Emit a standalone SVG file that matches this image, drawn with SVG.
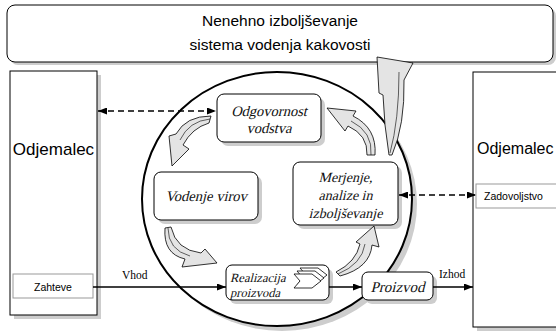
<svg xmlns="http://www.w3.org/2000/svg" width="556" height="336" viewBox="0 0 556 336">
<defs>
<style>
.box{fill:#fff;stroke:#000;stroke-width:1}
.sh{fill:#cdcdcd}
.it{font-family:"Liberation Serif","Times New Roman",serif;fill:#111}
.sans{font-family:"Liberation Sans",Arial,sans-serif;fill:#000}
.lbl{font-family:"Liberation Serif","Times New Roman",serif;font-size:11.5px;fill:#000}
.conn{stroke:#000;stroke-width:1.5;fill:none}
.dash{stroke-dasharray:6 4}
.ba{fill:#e4e4e4;stroke:#000;stroke-width:0.8;stroke-linejoin:round}
.bi{fill:none;stroke:#000;stroke-width:0.6}
.chev{fill:#fff;stroke:#000;stroke-width:0.8}
</style>
<marker id="ah" viewBox="0 0 9 7" refX="9" refY="3.5" markerWidth="9" markerHeight="7" markerUnits="userSpaceOnUse" orient="auto-start-reverse">
<path d="M0,0 L9,3.5 L0,7 Z" fill="#000"/>
</marker>
</defs>

<g id="title">
<rect class="sh" x="10" y="8" width="546" height="57" rx="8"/>
<rect class="box" x="7" y="5" width="546" height="57" rx="8"/>
<text class="sans" x="280" y="26" font-size="15.5" text-anchor="middle">Nenehno izboljševanje</text>
<text class="sans" x="280" y="50" font-size="15.5" text-anchor="middle">sistema vodenja kakovosti</text>
</g>

<g id="odjemalec-left">
<rect class="sh" x="14" y="75" width="87" height="244"/>
<rect class="box" x="10" y="71" width="87" height="244" stroke="#444"/>
<text class="sans" x="53.5" y="155" font-size="17" text-anchor="middle">Odjemalec</text>
</g>
<g id="zahteve">
<rect x="13" y="274" width="80" height="24" fill="#fff" stroke="#999" stroke-width="1"/>
<text class="sans" x="53" y="291" font-size="10.5" text-anchor="middle">Zahteve</text>
</g>

<g id="odjemalec-right">
<rect class="sh" x="477" y="76" width="95" height="255"/>
<rect class="box" x="473" y="72" width="95" height="255" stroke="#444"/>
<text class="sans" x="477" y="154" font-size="16" text-anchor="start">Odjemalec</text>
</g>
<g id="zadovoljstvo">
<rect x="476" y="184" width="90" height="24" fill="#fff" stroke="#999" stroke-width="1"/>
<text class="sans" x="484" y="200" font-size="10.5" text-anchor="start">Zadovoljstvo</text>
</g>

<g id="krog">
<ellipse cx="282" cy="204" rx="135" ry="127" fill="#cdcdcd"/>
<ellipse cx="277" cy="199" rx="135" ry="127" fill="#fff" stroke="#000" stroke-width="2"/>
</g>

<g id="odgovornost">
<rect class="sh" x="221" y="98" width="104" height="48" rx="7"/>
<rect class="box" x="217" y="94" width="104" height="48" rx="7"/>
<text class="it" transform="translate(269,116) skewX(-14)" font-size="14.5" text-anchor="middle">Odgovornost</text>
<text class="it" transform="translate(269,133) skewX(-14)" font-size="14.5" text-anchor="middle">vodstva</text>
</g>

<g id="vodenje">
<rect class="sh" x="158" y="176" width="104" height="48" rx="7"/>
<rect class="box" x="154" y="172" width="104" height="48" rx="7"/>
<text class="it" transform="translate(206,201) skewX(-14)" font-size="14.5" text-anchor="middle">Vodenje virov</text>
</g>

<g id="merjenje">
<rect class="sh" x="297" y="166" width="105" height="63" rx="7"/>
<rect class="box" x="293" y="162" width="105" height="63" rx="7"/>
<text class="it" transform="translate(345.5,182) skewX(-14)" font-size="14" text-anchor="middle">Merjenje,</text>
<text class="it" transform="translate(345.5,200) skewX(-14)" font-size="14" text-anchor="middle">analize in</text>
<text class="it" transform="translate(345.5,218) skewX(-14)" font-size="14" text-anchor="middle">izboljševanje</text>
</g>

<g id="realizacija">
<rect class="sh" x="230" y="269" width="103" height="35" rx="6"/>
<rect class="box" x="226" y="265" width="103" height="35" rx="6"/>
<text class="it" transform="translate(230,282) skewX(-14)" font-size="12.5" text-anchor="start">Realizacija</text>
<text class="it" transform="translate(230,297) skewX(-14)" font-size="12.5" text-anchor="start">proizvoda</text>
<path class="chev" d="M300,268 L318,268 L327,275 L318,282 L300,282 L306,275 Z"/>
<path class="chev" d="M297,271 L315,271 L324,278 L315,285 L297,285 L303,278 Z"/>
<path class="chev" d="M294,274 L312,274 L321,281 L312,288 L294,288 L300,281 Z"/>
</g>

<g id="proizvod">
<rect class="sh" x="366" y="276" width="71" height="28" rx="6"/>
<rect class="box" x="362" y="272" width="71" height="28" rx="6"/>
<text class="it" transform="translate(397.5,292) skewX(-14)" font-size="15" text-anchor="middle">Proizvod</text>
</g>

<g id="puscice">
<path class="ba" d="M211,116 Q186,116 176,134 L169,136 L172,166 L189,149 L183,145 Q192,128 209,123 Z"/>
<path class="bi" d="M210,119 Q189,121 180,140"/>
<path class="ba" d="M165,228 Q163,254 185,259 L182,267 L217,263 L205,249 L201,253 Q176,250 171,227 Z"/>
<path class="bi" d="M168,228 Q168,250 190,256"/>
<path class="ba" d="M336,272 Q356,262 360,244 L356,242 L374,226 L379,247 L372,245 Q370,268 340,276 Z"/>
<path class="bi" d="M338,274 Q362,264 365,244"/>
<path class="ba" d="M367,155 Q368,135 348,126 L345,131 L327,108 L356,111 L353,116 Q377,128 375,155 Z"/>
<path class="bi" d="M371,155 Q373,132 351,121"/>
<path class="ba" d="M389,155 Q384,125 383,95 L379,93 L377,57 L413,63 L404,80 Q405,125 392,155 Z"/>
<path class="bi" d="M390,153 Q399,120 399,72"/>
</g>

<g id="connectors">
<line class="conn dash" x1="98" y1="111" x2="216" y2="111" marker-start="url(#ah)" marker-end="url(#ah)"/>
<line class="conn dash" x1="399" y1="195" x2="476" y2="195" marker-start="url(#ah)" marker-end="url(#ah)"/>
<line class="conn" x1="93" y1="287" x2="226" y2="287" marker-end="url(#ah)"/>
<line class="conn" x1="329" y1="287" x2="362" y2="287" marker-end="url(#ah)"/>
<line class="conn" x1="433" y1="287" x2="473" y2="287" marker-end="url(#ah)"/>
<text class="lbl" x="122" y="279">Vhod</text>
<text class="lbl" x="439" y="278">Izhod</text>
</g>
</svg>
